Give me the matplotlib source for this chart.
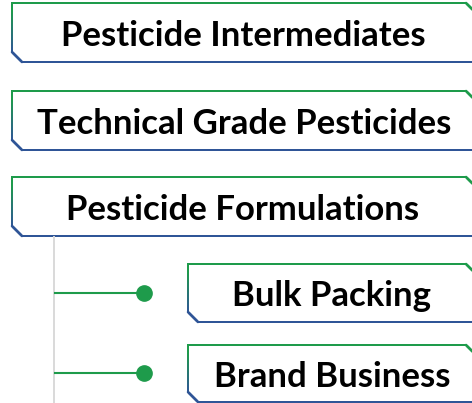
import numpy as np
import matplotlib
matplotlib.use("Agg")
import matplotlib.pyplot as plt
from matplotlib.collections import LineCollection
from matplotlib.colors import to_rgb

# Diagram content
main_labels = ["Pesticide Intermediates", "Technical Grade Pesticides", "Pesticide Formulations"]
sub_labels = ["Bulk Packing", "Brand Business"]

GREEN = "#1e9b4b"
BLUE = "#2f5597"
GRAY = "#d9d9d9"

W, H = 472, 403
fig = plt.figure(figsize=(W / 100, H / 100), dpi=100)
ax = fig.add_axes([0, 0, 1, 1])
ax.set_xlim(0, W)
ax.set_ylim(H, 0)
ax.axis("off")

g = np.array(to_rgb(GREEN))
b = np.array(to_rgb(BLUE))


def box(x0, y0, x1, y1, c=10, lw=2.0):
    pts = [(x1, y1), (x1, y0 + c), (x1 - c, y0), (x0, y0), (x0, y1 - c), (x0 + c, y1), (x1, y1)]
    segs, cols = [], []
    for (ax_, ay), (bx, by) in zip(pts[:-1], pts[1:]):
        n = 40
        xs = np.linspace(ax_, bx, n + 1)
        ys = np.linspace(ay, by, n + 1)
        for i in range(n):
            segs.append([(xs[i], ys[i]), (xs[i + 1], ys[i + 1])])
            t = ((ys[i] + ys[i + 1]) / 2 - y0) / (y1 - y0)
            t = np.clip((t - 0.15) / 0.7, 0, 1)
            cols.append(g * (1 - t) + b * t)
    lc = LineCollection(segs, colors=cols, linewidths=lw * 0.72, capstyle="projecting")
    ax.add_collection(lc)


font = dict(family=["Lato", "DejaVu Sans"], fontweight="bold", fontsize=25, color="black",
            ha="center", va="baseline")

main_boxes = [(12, 3, 476, 62), (12, 91, 476, 150), (12, 177, 476, 236)]
main_text = [(243, 46), (244, 134), (243, 220)]
for (x0, y0, x1, y1), (tx, ty), lab in zip(main_boxes, main_text, main_labels):
    box(x0, y0, x1, y1)
    ax.text(tx, ty, lab, **font)

# vertical connector
ax.plot([54, 54], [237, 403], color=GRAY, lw=1.4)

sub_boxes = [(188, 264, 476, 322), (188, 345, 476, 402)]
sub_text = [(332, 306), (332, 387)]
sub_y = [293, 373]
for (x0, y0, x1, y1), (tx, ty), yy, lab in zip(sub_boxes, sub_text, sub_y, sub_labels):
    box(x0, y0, x1, y1)
    ax.text(tx, ty, lab, **font)
    ax.plot([55, 144], [yy, yy], color=GREEN, lw=1.5)
    ax.plot([144], [yy], "o", color=GREEN, ms=11)

fig.savefig("out.png", dpi=100)
